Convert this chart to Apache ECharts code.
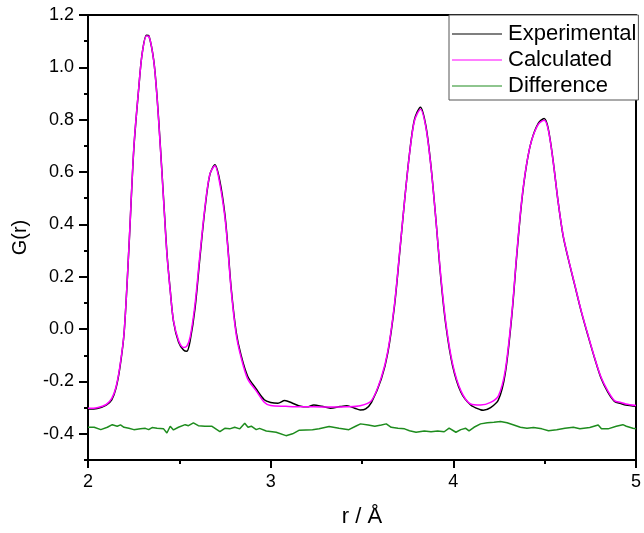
<!DOCTYPE html>
<html><head><meta charset="utf-8">
<script src="https://cdn.jsdelivr.net/npm/echarts@6/dist/echarts.min.js"></script>
<style>html,body{margin:0;padding:0;background:#fff}#c{width:644px;height:533px}</style>
</head><body><div id="c"></div>
<script>
// ---- data (r in Å, G(r)) ----
const calcData = [[2.0,-0.302],[2.05,-0.300],[2.1,-0.288],[2.13,-0.265],[2.153,-0.222],[2.175,-0.14],[2.198,-0.01],[2.224,0.313],[2.251,0.695],[2.278,0.924],[2.296,1.05],[2.32,1.12],[2.334,1.118],[2.36,1.024],[2.378,0.885],[2.396,0.695],[2.414,0.49],[2.432,0.287],[2.45,0.147],[2.468,0.032],[2.496,-0.044],[2.523,-0.07],[2.541,-0.065],[2.559,-0.031],[2.586,0.096],[2.613,0.287],[2.64,0.465],[2.667,0.592],[2.695,0.624],[2.722,0.554],[2.749,0.43],[2.765,0.313],[2.784,0.147],[2.811,-0.019],[2.838,-0.108],[2.874,-0.19],[2.92,-0.235],[2.965,-0.279],[3.0,-0.292],[3.083,-0.295],[3.164,-0.297],[3.236,-0.297],[3.327,-0.298],[3.417,-0.297],[3.49,-0.293],[3.552,-0.273],[3.606,-0.184],[3.642,-0.082],[3.678,0.096],[3.705,0.287],[3.733,0.49],[3.76,0.668],[3.787,0.795],[3.82,0.84],[3.85,0.77],[3.878,0.617],[3.905,0.414],[3.932,0.198],[3.96,0.019],[3.996,-0.133],[4.041,-0.235],[4.095,-0.286],[4.149,-0.29],[4.204,-0.28],[4.247,-0.255],[4.284,-0.159],[4.32,0.058],[4.347,0.287],[4.374,0.49],[4.401,0.63],[4.428,0.719],[4.465,0.782],[4.497,0.798],[4.519,0.764],[4.546,0.643],[4.573,0.49],[4.6,0.363],[4.628,0.274],[4.664,0.172],[4.7,0.07],[4.736,-0.019],[4.773,-0.108],[4.809,-0.184],[4.845,-0.235],[4.882,-0.273],[4.917,-0.28],[4.944,-0.286],[5.0,-0.292]];
const expData = [[2.0,-0.305],[2.05,-0.303],[2.1,-0.29],[2.13,-0.27],[2.153,-0.226],[2.175,-0.145],[2.198,-0.012],[2.224,0.31],[2.251,0.69],[2.278,0.922],[2.296,1.05],[2.32,1.123],[2.334,1.12],[2.36,1.026],[2.378,0.888],[2.396,0.70],[2.414,0.495],[2.432,0.292],[2.45,0.15],[2.468,0.03],[2.496,-0.05],[2.523,-0.08],[2.541,-0.085],[2.559,-0.045],[2.586,0.08],[2.613,0.275],[2.64,0.458],[2.667,0.59],[2.695,0.628],[2.722,0.565],[2.749,0.44],[2.765,0.32],[2.784,0.155],[2.811,-0.01],[2.838,-0.10],[2.874,-0.18],[2.92,-0.228],[2.965,-0.27],[3.0,-0.28],[3.04,-0.283],[3.077,-0.273],[3.12,-0.283],[3.164,-0.295],[3.2,-0.297],[3.236,-0.29],[3.28,-0.295],[3.327,-0.302],[3.38,-0.296],[3.417,-0.293],[3.46,-0.302],[3.49,-0.309],[3.52,-0.305],[3.552,-0.28],[3.606,-0.19],[3.642,-0.088],[3.678,0.09],[3.705,0.282],[3.733,0.49],[3.76,0.67],[3.787,0.80],[3.82,0.848],[3.85,0.775],[3.878,0.62],[3.905,0.415],[3.932,0.19],[3.96,0.01],[3.996,-0.14],[4.041,-0.24],[4.095,-0.29],[4.149,-0.308],[4.164,-0.31],[4.204,-0.30],[4.247,-0.27],[4.284,-0.17],[4.32,0.05],[4.347,0.28],[4.374,0.485],[4.401,0.628],[4.428,0.72],[4.465,0.786],[4.497,0.805],[4.519,0.768],[4.546,0.645],[4.573,0.49],[4.6,0.36],[4.628,0.272],[4.664,0.17],[4.7,0.068],[4.736,-0.022],[4.773,-0.11],[4.809,-0.188],[4.845,-0.24],[4.882,-0.276],[4.917,-0.284],[4.944,-0.29],[5.0,-0.295]];
const diffData = [[2.0,-0.375],[2.034,-0.375],[2.07,-0.384],[2.106,-0.375],[2.133,-0.365],[2.16,-0.371],[2.178,-0.366],[2.197,-0.375],[2.224,-0.379],[2.251,-0.384],[2.287,-0.381],[2.314,-0.379],[2.332,-0.384],[2.351,-0.376],[2.378,-0.379],[2.414,-0.381],[2.432,-0.397],[2.45,-0.371],[2.468,-0.385],[2.495,-0.375],[2.532,-0.365],[2.55,-0.369],[2.577,-0.358],[2.604,-0.369],[2.64,-0.371],[2.677,-0.371],[2.722,-0.392],[2.749,-0.379],[2.776,-0.381],[2.803,-0.375],[2.831,-0.381],[2.858,-0.36],[2.876,-0.375],[2.894,-0.371],[2.921,-0.384],[2.939,-0.379],[2.976,-0.389],[3.03,-0.394],[3.084,-0.407],[3.12,-0.4],[3.157,-0.386],[3.229,-0.384],[3.265,-0.381],[3.32,-0.372],[3.374,-0.379],[3.428,-0.384],[3.465,-0.371],[3.492,-0.362],[3.534,-0.366],[3.57,-0.371],[3.606,-0.366],[3.633,-0.362],[3.66,-0.375],[3.697,-0.379],[3.733,-0.381],[3.76,-0.388],[3.796,-0.394],[3.841,-0.389],[3.878,-0.392],[3.914,-0.389],[3.95,-0.392],[3.977,-0.378],[4.014,-0.394],[4.041,-0.384],[4.068,-0.379],[4.086,-0.389],[4.113,-0.375],[4.149,-0.362],[4.186,-0.358],[4.222,-0.356],[4.258,-0.353],[4.294,-0.358],[4.331,-0.366],[4.367,-0.375],[4.403,-0.379],[4.439,-0.376],[4.485,-0.381],[4.521,-0.388],[4.566,-0.384],[4.611,-0.379],[4.657,-0.375],[4.693,-0.381],[4.747,-0.376],[4.793,-0.366],[4.811,-0.381],[4.847,-0.381],[4.892,-0.371],[4.928,-0.365],[4.947,-0.371],[4.983,-0.379],[5.0,-0.381]];
const seriesNames = ['Experimental','Calculated','Difference'];
const xTickLabels = ['2','3','4','5'];
const xMinorTicks = ['2.5','3.5','4.5'];
const yTickLabels = ['-0.4','-0.2','0.0','0.2','0.4','0.6','0.8','1.0','1.2'];
const yMinorTicks = ['-0.5','-0.3','-0.1','0.1','0.3','0.5','0.7','0.9','1.1'];

const font = 'Liberation Sans, Arial, sans-serif';
const lineIcon = 'path://M0,0L50,0L50,1L0,1Z';
const chart = echarts.init(document.getElementById('c'));
const yRange = {min:-0.5, max:1.2};
const axisLineStyle = {color:'#000', width:2};
chart.setOption({
  animation:false,
  backgroundColor:'#fff',
  grid:{left:88, right:4, top:15, bottom:72},
  legend:{
    left:449, top:15, orient:'vertical',
    data:seriesNames.map(n=>({name:n, icon:lineIcon})),
    itemWidth:50, itemHeight:1.5, itemGap:4,
    padding:[8,2,3,3],
    borderColor:'#555', borderWidth:1, backgroundColor:'#fff',
    textStyle:{fontFamily:font, fontSize:22, color:'#000', padding:[0,0,0,1]}
  },
  xAxis:[{
    type:'value', min:2, max:5,
    axisLabel:{customValues:xTickLabels.map(Number), formatter:v=>String(v), fontFamily:font, fontSize:18, color:'#000', margin:13},
    axisTick:{customValues:xTickLabels.map(Number), inside:false, length:8, lineStyle:axisLineStyle},
    axisLine:{onZero:false, lineStyle:axisLineStyle},
    splitLine:{show:false},
    name:'r / Å', nameLocation:'middle', nameGap:46,
    nameTextStyle:{fontFamily:font, fontSize:22, color:'#000'}
  },{
    type:'value', min:2, max:5, position:'bottom',
    axisLabel:{show:false}, axisLine:{show:false, onZero:false},
    axisTick:{customValues:xMinorTicks.map(Number), length:4, lineStyle:axisLineStyle},
    splitLine:{show:false}
  },{
    type:'value', min:2, max:5, position:'top',
    axisLabel:{show:false}, axisTick:{show:false},
    axisLine:{show:true, onZero:false, lineStyle:axisLineStyle}, splitLine:{show:false}
  }],
  yAxis:[{
    type:'value', min:yRange.min, max:yRange.max, position:'left',
    axisLabel:{customValues:yTickLabels.map(Number), formatter:v=>v.toFixed(1), fontFamily:font, fontSize:18, color:'#000', margin:14},
    axisTick:{customValues:yTickLabels.map(Number), length:9, lineStyle:axisLineStyle},
    axisLine:{show:true, onZero:false, lineStyle:axisLineStyle},
    splitLine:{show:false},
    name:'G(r)', nameLocation:'middle', nameGap:58,
    nameTextStyle:{fontFamily:font, fontSize:20, color:'#000'}
  },{
    type:'value', min:yRange.min, max:yRange.max, position:'left',
    axisLabel:{show:false}, axisLine:{show:false, onZero:false},
    axisTick:{customValues:yMinorTicks.map(Number), length:4, lineStyle:axisLineStyle},
    splitLine:{show:false}
  },{
    type:'value', min:yRange.min, max:yRange.max, position:'right',
    axisLabel:{show:false}, axisTick:{show:false},
    axisLine:{show:true, onZero:false, lineStyle:axisLineStyle}, splitLine:{show:false}
  }],
  series:[
    {name:seriesNames[0], type:'line', data:expData, showSymbol:false, symbol:'none', smooth:0.3, lineStyle:{color:'#000', width:1.5}, itemStyle:{color:'#000'}},
    {name:seriesNames[1], type:'line', data:calcData, showSymbol:false, symbol:'none', smooth:0.3, lineStyle:{color:'#ff00ff', width:1.5}, itemStyle:{color:'#ff00ff'}},
    {name:seriesNames[2], type:'line', data:diffData, showSymbol:false, symbol:'none', lineStyle:{color:'#1e8c1e', width:1.5}, itemStyle:{color:'#1e8c1e'}}
  ]
});
</script></body></html>
